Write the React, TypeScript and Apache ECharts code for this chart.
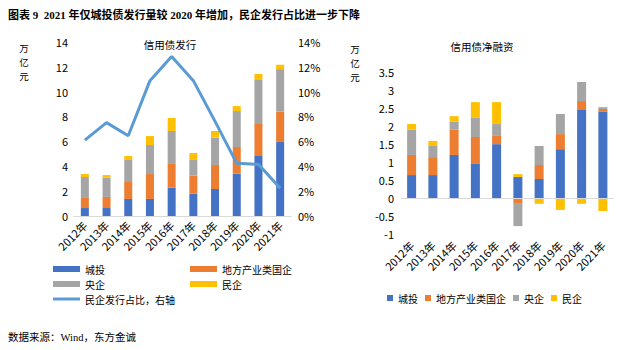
import React, { useEffect, useRef } from 'react';
import * as echarts from 'echarts';

const categories = ['2012年', '2013年', '2014年', '2015年', '2016年', '2017年', '2018年', '2019年', '2020年', '2021年'];

// 信用债发行（万亿元）
const issueChengtou = [0.64, 0.64, 1.37, 1.37, 2.28, 1.79, 2.17, 3.4, 4.82, 5.94];
const issueLocalSOE = [0.81, 0.89, 1.36, 2.0, 1.9, 1.45, 1.93, 2.14, 2.57, 2.44];
const issueCentralSOE = [1.68, 1.55, 1.77, 2.33, 2.65, 1.26, 2.19, 2.89, 3.53, 3.42];
const issuePrivate = [0.24, 0.21, 0.32, 0.72, 1.04, 0.56, 0.54, 0.4, 0.48, 0.35];
// 民企发行占比（%）
const privateShare = [6.1, 7.5, 6.45, 10.87, 12.82, 10.87, 7.6, 4.23, 4.15, 2.22];

// 信用债净融资（万亿元）
const netChengtou = [0.64, 0.64, 1.2, 0.95, 1.5, 0.585, 0.53, 1.36, 2.45, 2.4];
const netLocalSOE = [0.56, 0.5, 0.7, 0.75, 0.23, -0.16, 0.39, 0.42, 0.25, 0.08];
const netCentralSOE = [0.7, 0.31, 0.23, 0.53, 0.33, -0.62, 0.53, 0.56, 0.53, 0.05];
const netPrivate = [0.16, 0.14, 0.15, 0.44, 0.61, 0.08, -0.16, -0.33, -0.16, -0.36];

const unitChars = ['万', '亿', '元'];

const C_BLUE = '#4472C4';
const C_ORANGE = '#ED7D31';
const C_GRAY = '#A5A5A5';
const C_YELLOW = '#FFC000';
const C_LINE = '#5B9BD5';
const FONT = "'Noto Sans CJK SC', 'Microsoft YaHei', sans-serif";
const SERIF = "'Liberation Serif', 'Noto Sans CJK SC', serif";

const axisText = { color: '#000', fontSize: 11, fontFamily: FONT };

function unitTexts(x: number, y0: number) {
  return unitChars.map((ch, i) => ({
    type: 'text',
    x,
    y: y0 + i * 14,
    style: { text: ch, fontSize: 9.5, fontFamily: FONT, fill: '#000', align: 'center', verticalAlign: 'middle' },
  }));
}

function makeOption() {
  const legendBase = {
    padding: 0,
    icon: 'rect',
    itemWidth: 27,
    itemHeight: 6,
    selectedMode: false,
    textStyle: { color: '#000', fontSize: 10, fontFamily: FONT },
  };
  return {
    animation: false,
    backgroundColor: '#fff',
    graphic: [
      { type: 'text', x: 8, y: 15, style: { text: '图表 9  2021 年仅城投债发行量较 2020 年增加，民企发行占比进一步下降', fontSize: 11, fontWeight: 'bold', fontFamily: SERIF, fill: '#000', verticalAlign: 'middle' } },
      { type: 'text', x: 8, y: 337, style: { text: '数据来源：Wind，东方金诚', fontSize: 10.5, fontFamily: SERIF, fill: '#000', verticalAlign: 'middle' } },
      { type: 'text', x: 170, y: 44, style: { text: '信用债发行', fontSize: 10.5, fontFamily: FONT, fill: '#000', align: 'center', verticalAlign: 'middle' } },
      { type: 'text', x: 482, y: 46, style: { text: '信用债净融资', fontSize: 10.5, fontFamily: FONT, fill: '#000', align: 'center', verticalAlign: 'middle' } },
      ...unitTexts(24, 48),
      ...unitTexts(355, 49),
    ],
    legend: [
      { ...legendBase, data: ['城投'], left: 53, top: 264 },
      { ...legendBase, data: ['地方产业类国企'], left: 190, top: 264 },
      { ...legendBase, data: ['央企'], left: 53, top: 279 },
      { ...legendBase, data: ['民企'], left: 190, top: 279 },
      { ...legendBase, data: ['民企发行占比，右轴'], left: 53, top: 294, itemHeight: 3 },
      { ...legendBase, data: ['城投', '地方产业类国企', '央企', '民企'], left: 387, top: 293, itemWidth: 6, itemHeight: 6, itemGap: 7 },
    ],
    grid: [
      { left: 74, right: 346, top: 41.7, bottom: 134 },
      { left: 401, right: 23.5, top: 72.3, bottom: 116 },
    ],
    xAxis: [
      {
        type: 'category', gridIndex: 0, data: categories,
        axisLine: { lineStyle: { color: '#D9D9D9' } },
        axisTick: { show: false },
        axisLabel: { ...axisText, rotate: 45, margin: 7, interval: 0 },
      },
      {
        type: 'category', gridIndex: 1, data: categories,
        axisLine: { show: false, onZero: false },
        axisTick: { show: false },
        axisLabel: { ...axisText, rotate: 45, margin: 9, interval: 0 },
      },
    ],
    yAxis: [
      {
        type: 'value', gridIndex: 0, min: 0, max: 14, interval: 2,
        splitLine: { show: false }, axisLine: { show: false }, axisTick: { show: false },
        axisLabel: { ...axisText, margin: 6 },
      },
      {
        type: 'value', gridIndex: 0, min: 0, max: 14, interval: 2, position: 'right',
        splitLine: { show: false }, axisLine: { show: false }, axisTick: { show: false },
        axisLabel: { ...axisText, margin: 7, formatter: '{value}%' },
      },
      {
        type: 'value', gridIndex: 1, min: -1, max: 3.5, interval: 0.5,
        splitLine: { show: false }, axisLine: { show: false }, axisTick: { show: false },
        axisLabel: { ...axisText, margin: 7 },
      },
    ],
    series: [
      { name: '城投', type: 'bar', stack: 'issue', xAxisIndex: 0, yAxisIndex: 0, barWidth: 8, itemStyle: { color: C_BLUE }, data: issueChengtou },
      { name: '地方产业类国企', type: 'bar', stack: 'issue', xAxisIndex: 0, yAxisIndex: 0, barWidth: 8, itemStyle: { color: C_ORANGE }, data: issueLocalSOE },
      { name: '央企', type: 'bar', stack: 'issue', xAxisIndex: 0, yAxisIndex: 0, barWidth: 8, itemStyle: { color: C_GRAY }, data: issueCentralSOE },
      { name: '民企', type: 'bar', stack: 'issue', xAxisIndex: 0, yAxisIndex: 0, barWidth: 8, itemStyle: { color: C_YELLOW }, data: issuePrivate },
      {
        name: '民企发行占比，右轴', type: 'line', xAxisIndex: 0, yAxisIndex: 1, symbol: 'none',
        lineStyle: { color: C_LINE, width: 3 }, itemStyle: { color: C_LINE }, data: privateShare, z: 5,
      },
      {
        name: '城投', type: 'bar', stack: 'net', xAxisIndex: 1, yAxisIndex: 2, barWidth: 9, itemStyle: { color: C_BLUE }, data: netChengtou,
        markLine: {
          silent: true, symbol: ['none', 'none'], label: { show: false },
          lineStyle: { color: '#D9D9D9', width: 1, type: 'solid' },
          data: [{ yAxis: 0 }],
        },
      },
      { name: '地方产业类国企', type: 'bar', stack: 'net', xAxisIndex: 1, yAxisIndex: 2, barWidth: 9, itemStyle: { color: C_ORANGE }, data: netLocalSOE },
      { name: '央企', type: 'bar', stack: 'net', xAxisIndex: 1, yAxisIndex: 2, barWidth: 9, itemStyle: { color: C_GRAY }, data: netCentralSOE },
      { name: '民企', type: 'bar', stack: 'net', xAxisIndex: 1, yAxisIndex: 2, barWidth: 9, itemStyle: { color: C_YELLOW }, data: netPrivate },
    ],
  };
}

export default function App() {
  const ref = useRef<HTMLDivElement>(null);
  useEffect(() => {
    const chart = echarts.init(ref.current!, null, { renderer: 'svg' });
    chart.setOption(makeOption() as any);
    return () => chart.dispose();
  }, []);
  return (
    <div
      ref={ref}
      style={{ position: 'fixed', left: 0, top: 0, width: 637, height: 350, background: '#fff' }}
    />
  );
}
